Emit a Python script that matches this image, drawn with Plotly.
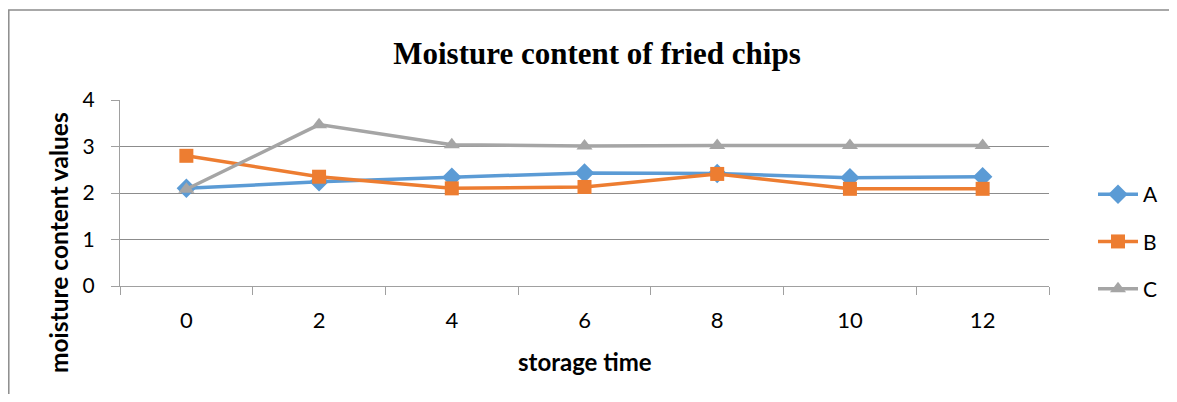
import plotly.graph_objects as go

storage_time = ["0", "2", "4", "6", "8", "10", "12"]
series_A = [2.10, 2.24, 2.34, 2.43, 2.42, 2.33, 2.35]
series_B = [2.80, 2.35, 2.10, 2.13, 2.41, 2.09, 2.09]
series_C = [2.08, 3.47, 3.04, 3.01, 3.02, 3.02, 3.02]
y_ticks = [0, 1, 2, 3, 4]

# page body has an 8px margin; figure is laid out to compensate
OFF = 8
W, H = 1177 - 2 * OFF, 402 - 2 * OFF
L, R, T, B = 120 - OFF, 120, 100 - OFF, 108

fig = go.Figure()
styles = [
    ("A", series_A, "#5B9BD5", "diamond", 15),
    ("B", series_B, "#ED7D31", "square", 14),
    ("C", series_C, "#A5A5A5", "triangle-up", 14),
]
for name, vals, col, sym, sz in styles:
    fig.add_trace(go.Scatter(
        x=storage_time, y=vals, name=name, mode="lines+markers",
        legendgroup=name,
        line=dict(color=col, width=3.5),
        marker=dict(symbol=sym, size=sz, color=col),
    ))

pw = W - L - R
ph = H - T - B


def px_x(page_x):
    return (page_x - OFF - L) / pw


def px_y(page_y):
    return (T + ph - (page_y - OFF)) / ph


fig.add_shape(type="rect", xref="paper", yref="paper",
              x0=(0.8 - L) / pw, x1=(W + 40 - L) / pw,
              y0=-(H + 40 - (T + ph)) / ph, y1=1 + (T - 2) / ph,
              line=dict(color="#8c8c8c", width=1.5), layer="below")

fig.add_annotation(text="<b>storage time</b>", xref="paper", yref="paper",
                   x=px_x(585), y=px_y(361), xanchor="center", yanchor="middle",
                   showarrow=False, font=dict(family="Lato", size=24, color="black"))
fig.add_annotation(text="<b>moisture content values</b>", xref="paper", yref="paper",
                   x=px_x(58), y=px_y(243), xanchor="center", yanchor="middle",
                   textangle=-90, showarrow=False,
                   font=dict(family="Lato", size=24.5, color="black"))

fig.update_layout(
    width=W, height=H,
    margin=dict(l=L, r=R, t=T, b=B, autoexpand=False),
    paper_bgcolor="white", plot_bgcolor="white",
    font=dict(family="Lato", size=20, color="black"),
    title=dict(text="<b>Moisture content of fried chips</b>",
               font=dict(family="Liberation Serif", size=31, color="black"),
               x=(597 - OFF) / W, xanchor="center", y=1 - (53 - OFF) / H, yanchor="middle"),
    showlegend=True,
    legend=dict(x=px_x(1093), xanchor="left",
                y=px_y(174), yanchor="top",
                font=dict(family="Lato", size=21, color="black"),
                tracegroupgap=17, itemwidth=40, bgcolor="rgba(0,0,0,0)"),
    xaxis=dict(
        type="category", range=[-0.5, 6.5], tickson="boundaries",
        ticks="outside", ticklen=8, tickcolor="#a0a0a0",
        showline=True, linecolor="#a0a0a0", linewidth=1.2,
        showgrid=False, tickfont=dict(family="Lato", size=22),
        ticklabelstandoff=14,
    ),
    yaxis=dict(
        range=[0, 4], tickvals=y_ticks, ticks="outside", ticklen=8, tickcolor="#a0a0a0",
        showline=True, linecolor="#a0a0a0", linewidth=1.2,
        showgrid=True, gridcolor="#8c8c8c", gridwidth=1.2, zeroline=False,
        tickfont=dict(family="Lato", size=21),
        ticklabelstandoff=12,
    ),
)

fig.write_html("out.html")
